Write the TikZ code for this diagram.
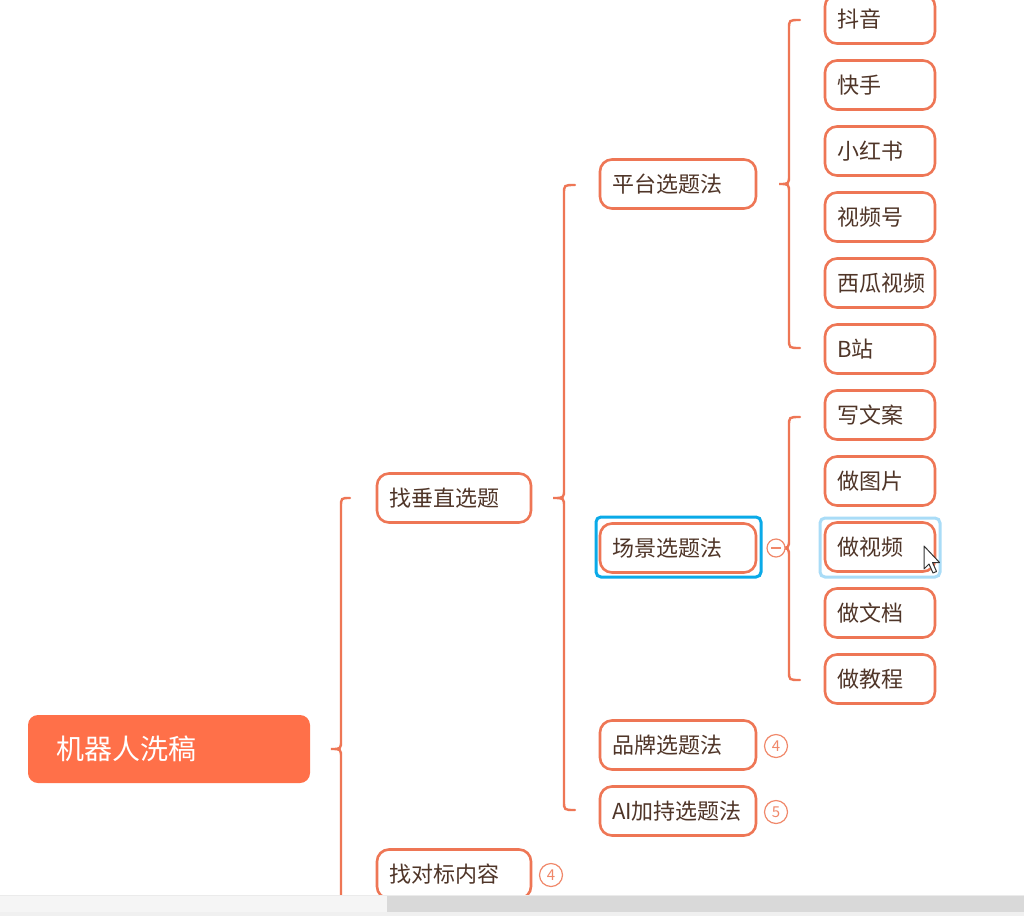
\documentclass[tikz,border=0pt]{standalone}
\usepackage{fontspec}
\setmainfont{Noto Sans CJK SC}
\definecolor{bord}{HTML}{EE7655}
\definecolor{txt}{HTML}{4F3528}
\definecolor{rootfill}{HTML}{FF7049}
\definecolor{numc}{HTML}{F0886A}
\definecolor{selblue}{HTML}{0AAAE8}
\definecolor{hoverblue}{HTML}{A9DCF7}
\tikzset{
  box/.style={draw=bord, line width=2.6pt, rounded corners=12pt, fill=white,
    text=txt, font=\fontsize{22}{26}\selectfont, inner xsep=12pt, inner ysep=0pt,
    minimum height=49pt, align=left, anchor=center},
  lvlone/.style={box, text width=130pt},
  lvltwo/.style={box, text width=132pt},
  leaf/.style={box, text width=86pt},
  brc/.style={draw=bord, line width=2.4pt, line cap=round},
  numcirc/.style={circle, draw=numc, line width=1.2pt, minimum size=23pt, inner sep=0pt,
    text=numc, font=\fontsize{15}{15}\selectfont, fill=white},
}
\begin{document}
\begin{tikzpicture}[x=1pt,y=-1pt]
\useasboundingbox (0,0) rectangle (1024,916);
\fill[white] (0,0) rectangle (1024,916);

% braces
\draw[brc] (350,498) .. controls (341,498) .. (341,507) -- (341,740) .. controls (341,749) .. (331,749)
  .. controls (341,749) .. (341,758) -- (341,895);
\draw[brc] (575,185) .. controls (564,185) .. (564,194) -- (564,489) .. controls (564,498) .. (553,498)
  .. controls (564,498) .. (564,507) -- (564,801) .. controls (564,810) .. (575,810);
\draw[brc] (800,20) .. controls (789,20) .. (789,29) -- (789,175) .. controls (789,184) .. (779,184)
  .. controls (789,184) .. (789,193) -- (789,339) .. controls (789,348) .. (800,348);
\draw[brc] (800,417) .. controls (789,417) .. (789,426) -- (789,539) .. controls (789,548) .. (779,548)
  .. controls (789,548) .. (789,557) -- (789,671) .. controls (789,680) .. (800,680);

% root
\node[fill=rootfill, rounded corners=10pt, minimum width=282pt, minimum height=68pt,
  text width=226pt, inner xsep=28pt, align=left, text=white,
  font=\fontsize{28}{32}\selectfont] (root) at (169,749) {机器人洗稿};

% level one
\node[lvlone] (vert) at (454,498) {找垂直选题};
\node[lvlone] (bench) at (454,874) {找对标内容};
\node[numcirc] (nbench) at (551,875) {4};

% level two
\node[lvltwo] (plat) at (678,184) {平台选题法};
\node[lvltwo] (scene) at (678,548) {场景选题法};
\node[lvltwo] (brand) at (678,745) {品牌选题法};
\node[lvltwo] (ai) at (678,811) {AI加持选题法};
\node[numcirc] (nbrand) at (776,746) {4};
\node[numcirc] (nai) at (776,812) {5};

% selection frames
\draw[selblue, line width=3pt, rounded corners=5pt] (596,517) rectangle (761,577);
\node[circle, draw=numc, line width=1.2pt, minimum size=18pt, inner sep=0pt, fill=white] (minus) at (776,548) {};
\draw[numc, line width=1.4pt] ([xshift=-5pt]minus.center) -- ([xshift=5pt]minus.center);

% leaves
\node[leaf] (l1) at (880,19) {抖音};
\node[leaf] (l2) at (880,85) {快手};
\node[leaf] (l3) at (880,151) {小红书};
\node[leaf] (l4) at (880,217) {视频号};
\node[leaf] (l5) at (880,283) {西瓜视频};
\node[leaf] (l6) at (880,349) {B站};
\draw[hoverblue, line width=3pt, rounded corners=5pt] (820,518) rectangle (940,577);
\node[leaf] (s1) at (880,415) {写文案};
\node[leaf] (s2) at (880,481) {做图片};
\node[leaf] (s3) at (880,547) {做视频};
\node[leaf] (s4) at (880,613) {做文档};
\node[leaf] (s5) at (880,679) {做教程};

% cursor
\draw[black!80, fill=white, line width=1pt, line join=round]
  (924,546) -- (924,569) -- (929,564) -- (933,573) -- (936.5,571.5) -- (932.5,562.5) -- (939.5,562.5) -- cycle;

% scrollbar
\fill[black!4] (0,895) rectangle (387,912);
\fill[black!15] (387,895) rectangle (1024,912);
\fill[black!6] (0,912) rectangle (1024,916);
\draw[black!8, line width=0.8pt] (0,895) -- (1024,895);
\end{tikzpicture}
\end{document}
